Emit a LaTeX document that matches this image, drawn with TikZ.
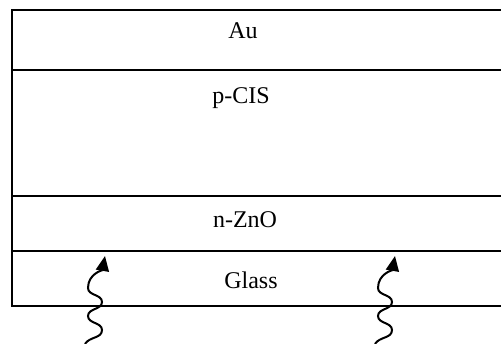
\documentclass[tikz,border=0pt]{standalone}
\usepackage{fontspec}
\setmainfont{Liberation Serif}
\usetikzlibrary{arrows.meta}
\begin{document}
\begin{tikzpicture}[x=1pt,y=1pt,
  layerline/.style={line width=2pt},
  label/.style={font=\fontsize{24}{28}\selectfont, inner sep=0pt},
  wave/.style={line width=2pt, -{Triangle[length=15pt,width=13pt]}}]
\useasboundingbox (0,0) rectangle (501,344);
% layer boundaries
\coordinate (tl) at (12,334);
\coordinate (tr) at (501,334);
\coordinate (bl) at (12,38);
\coordinate (br) at (501,38);
\draw[layerline] (tr) -- (tl) -- (bl) -- (br);
\foreach \y in {274,148,93}{
  \draw[layerline] (12,\y) -- (501,\y);
}
% labels
\node[label] (au) at (243,313) {Au};
\node[label] (pcis) at (241,246) {p-CIS};
\node[label] (nzno) at (245,124) {n-ZnO};
\node[label] (glass) at (251,64) {Glass};
% light arrows
\foreach \dx/\nm in {0/wl,290/wr}{
  \begin{scope}[xshift=\dx pt]
  \draw[wave] (85,0) to[out=60,in=-90] (102,14) to[out=90,in=-90] (88,28)
    to[out=90,in=-90] (102,42) to[out=90,in=-90] (88,56)
    to[out=90,in=-100] (105,88);
  \end{scope}
}
\end{tikzpicture}
\end{document}
